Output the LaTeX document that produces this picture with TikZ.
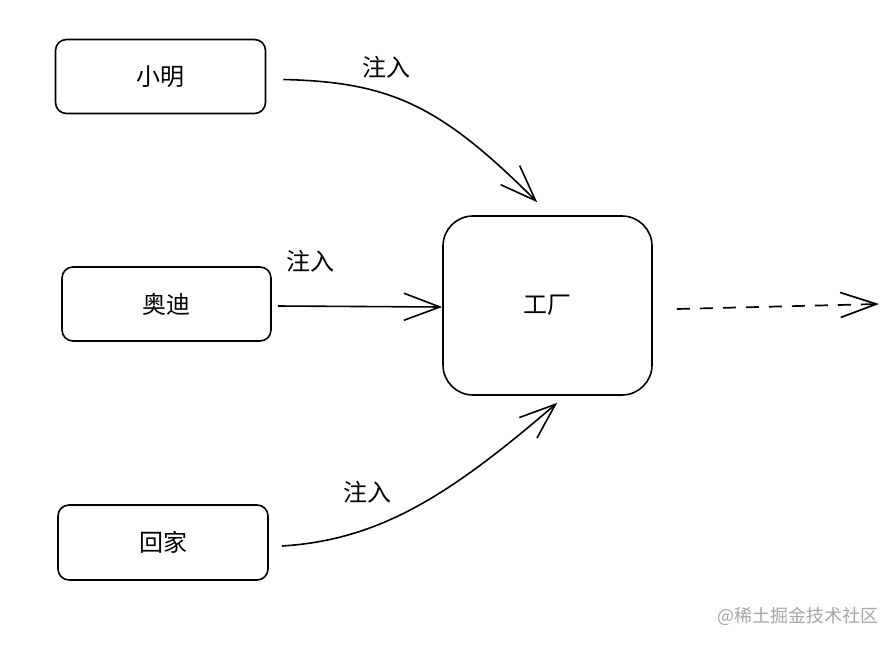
\documentclass[tikz,border=0pt]{standalone}
\usepackage{fontspec}
\newfontfamily\cjk{Noto Sans CJK SC}
\usetikzlibrary{arrows.meta,calc}
\begin{document}
\begin{tikzpicture}[x=1pt,y=-1pt,
  box/.style={draw=black,line width=1.6pt,rounded corners=11pt,minimum width=210pt,minimum height=74pt,inner sep=0pt,font=\cjk\fontsize{24}{28}\selectfont},
  bigbox/.style={box,rounded corners=30pt,minimum width=209pt,minimum height=179pt},
  lbl/.style={font=\cjk\fontsize{24}{28}\selectfont,inner sep=0pt},
  arr/.style={line width=1.6pt,-{Straight Barb[length=36pt,width=27pt,line width=1.6pt]}},
  darr/.style={line width=1.7pt,dash pattern=on 13pt off 10pt,-{Straight Barb[length=36pt,width=25pt,line width=1.7pt,sep=0pt]}}
]
\useasboundingbox (0,0) rectangle (896,646);
\fill[white] (0,0) rectangle (896,646);
\node[box] (xm) at (160.5,76.5) {小明};
\node[box,minimum width=209pt] (ad) at (166.5,304) {奥迪};
\node[box,minimum height=75pt] (hj) at (163,542.5) {回家};
\node[bigbox] (gc) at (547.5,305.5) {工厂};
\coordinate (out) at (879,304);

\draw[arr] ([xshift=17pt,yshift=-3pt]xm.east) .. controls (390,82) and (440,105) .. ([xshift=95pt,yshift=13pt]gc.north west);
\draw[arr] ([xshift=6pt,yshift=-2pt]ad.east) -- ([yshift=-1.5pt]gc.west);
\draw[arr] ([xshift=13pt,yshift=-3.5pt]hj.east) .. controls (380,540) and (450,495) .. ([xshift=115pt,yshift=-7pt]gc.south west);
\draw[darr] ([xshift=24pt,yshift=-3.5pt]gc.east) -- (out);

\node[lbl] (l1) at (386,67) {注入};
\node[lbl] (l2) at (310,261) {注入};
\node[lbl] (l3) at (367,492) {注入};
\node[font=\cjk\fontsize{18}{20}\selectfont,text=black!35,inner sep=0pt] (wm) at (798,616) {@稀土掘金技术社区};
\end{tikzpicture}
\end{document}
